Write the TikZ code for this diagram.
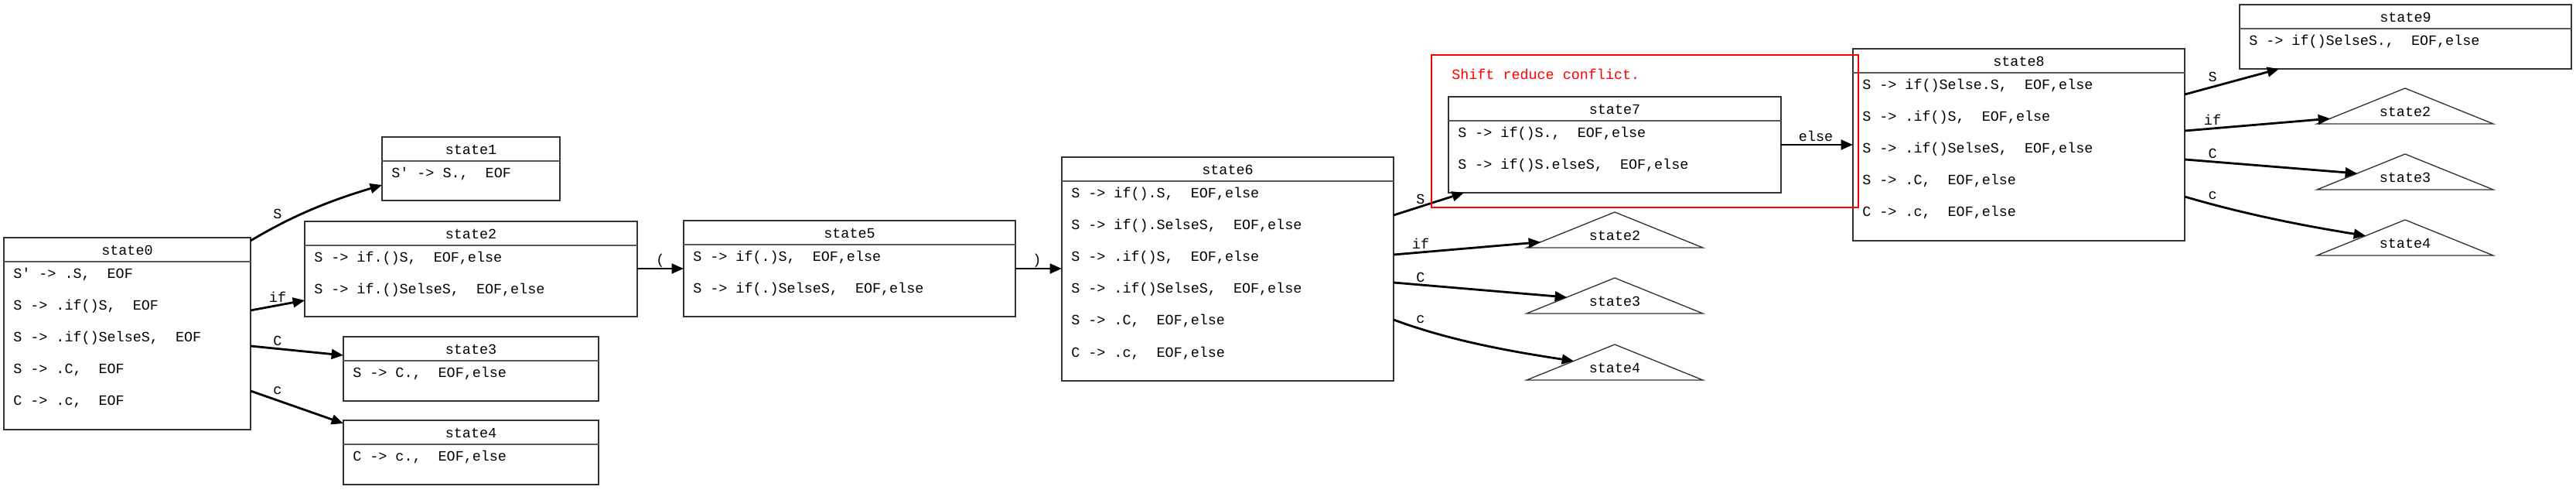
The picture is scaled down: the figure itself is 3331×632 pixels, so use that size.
\documentclass[tikz,border=0pt]{standalone}
\usepackage{fontspec}
\setmonofont{Liberation Mono}
\usetikzlibrary{arrows.meta,calc,fit}
\frenchspacing
\tikzset{
  mono/.style={font=\ttfamily\fontsize{13.8}{16}\selectfont},
  stbox/.style={draw=black!80, line width=0.9pt, inner sep=0pt, outer sep=0pt, fill=white},
  hdrline/.style={draw=black!65, line width=1.5pt},
  txt/.style={mono, anchor=base, inner sep=0pt},
  rowtxt/.style={mono, anchor=base west, inner sep=0pt},
  tri/.style={draw=black!80, line width=1pt},
  edge/.style={draw=black, line width=2.1pt, -{Triangle[length=11.5pt, width=9.5pt]}},
  redbox/.style={draw=red, line width=1.2pt, inner sep=0pt, outer sep=0pt},
  redtxt/.style={mono, anchor=base west, inner sep=0pt, text=red}
}
% name, x1, y1, x2, y2, title
\newcommand\stbox[6]{%
  \node[stbox, fit={(#2,#3) (#4,#5)}] (#1) {};
  \draw[hdrline] ($(#1.north west)+(0,31)$) -- ($(#1.north east)+(0,31)$);
  \node[txt] (#1t) at ({(#2+#4)/2},{#3+22}) {#6};}
% name, x1, top, index, text
\newcommand\strow[5]{\node[rowtxt] (#1) at ({#2+12},{#3+52+41.2*(#4-1)}) {#5};}
% name, apex x, apex y, label
\newcommand\tri[4]{%
  \coordinate (#1a) at (#2,#3);
  \coordinate (#1l) at ({#2-114},{#3+46});
  \coordinate (#1r) at ({#2+114},{#3+46});
  \draw[tri] (#1a) -- (#1l) -- (#1r) -- cycle;
  \node[txt] (#1) at (#2,{#3+36}) {#4};}
\begin{document}
\begin{tikzpicture}[x=0.75pt,y=-0.75pt]
\useasboundingbox (0,0) rectangle (3331,632);
\fill[white] (0,0) rectangle (3331,632);

% state0
\stbox{s0}{5}{307}{324}{555}{state0}
\strow{s0r1}{5}{307}{1}{S\textquotesingle{} -> .S,~~EOF}
\strow{s0r2}{5}{307}{2}{S -> .if()S,~~EOF}
\strow{s0r3}{5}{307}{3}{S -> .if()SelseS,~~EOF}
\strow{s0r4}{5}{307}{4}{S -> .C,~~EOF}
\strow{s0r5}{5}{307}{5}{C -> .c,~~EOF}
% state1
\stbox{s1}{494}{177}{724}{259}{state1}
\strow{s1r1}{494}{177}{1}{S\textquotesingle{} -> S.,~~EOF}
% state2
\stbox{s2}{394}{286}{824}{409}{state2}
\strow{s2r1}{394}{286}{1}{S -> if.()S,~~EOF,else}
\strow{s2r2}{394}{286}{2}{S -> if.()SelseS,~~EOF,else}
% state3
\stbox{s3}{444}{435}{774}{518}{state3}
\strow{s3r1}{444}{435}{1}{S -> C.,~~EOF,else}
% state4
\stbox{s4}{444}{543}{774}{626}{state4}
\strow{s4r1}{444}{543}{1}{C -> c.,~~EOF,else}
% state5
\stbox{s5}{884}{285}{1313}{409}{state5}
\strow{s5r1}{884}{285}{1}{S -> if(.)S,~~EOF,else}
\strow{s5r2}{884}{285}{2}{S -> if(.)SelseS,~~EOF,else}
% state6
\stbox{s6}{1373}{203}{1802}{492}{state6}
\strow{s6r1}{1373}{203}{1}{S -> if().S,~~EOF,else}
\strow{s6r2}{1373}{203}{2}{S -> if().SelseS,~~EOF,else}
\strow{s6r3}{1373}{203}{3}{S -> .if()S,~~EOF,else}
\strow{s6r4}{1373}{203}{4}{S -> .if()SelseS,~~EOF,else}
\strow{s6r5}{1373}{203}{5}{S -> .C,~~EOF,else}
\strow{s6r6}{1373}{203}{6}{C -> .c,~~EOF,else}
% state7
\stbox{s7}{1873}{125}{2303}{249}{state7}
\strow{s7r1}{1873}{125}{1}{S -> if()S.,~~EOF,else}
\strow{s7r2}{1873}{125}{2}{S -> if()S.elseS,~~EOF,else}
% state8
\stbox{s8}{2396}{63}{2825}{311}{state8}
\strow{s8r1}{2396}{63}{1}{S -> if()Selse.S,~~EOF,else}
\strow{s8r2}{2396}{63}{2}{S -> .if()S,~~EOF,else}
\strow{s8r3}{2396}{63}{3}{S -> .if()SelseS,~~EOF,else}
\strow{s8r4}{2396}{63}{4}{S -> .C,~~EOF,else}
\strow{s8r5}{2396}{63}{5}{C -> .c,~~EOF,else}
% state9
\stbox{s9}{2896}{6}{3325}{89}{state9}
\strow{s9r1}{2896}{6}{1}{S -> if()SelseS.,~~EOF,else}

% triangles
\tri{t62}{2088}{274}{state2}
\tri{t63}{2088}{359}{state3}
\tri{t64}{2088}{445}{state4}
\tri{t82}{3110}{114}{state2}
\tri{t83}{3110}{199}{state3}
\tri{t84}{3110}{284}{state4}

% edges from state0
\draw[edge] ($(s0.north east)+(0,4)$) .. controls (384,275) and (434,257) .. ($(s1.north west)+(0,62)$);
\draw[edge] ($(s0.north east)+(0,94)$) -- ($(s2.north west)+(0,102)$);
\draw[edge] ($(s0.north east)+(0,140)$) -- ($(s3.north west)+(0,24)$);
\draw[edge] ($(s0.north east)+(0,198)$) .. controls (364,519) and (404,533) .. ($(s4.north west)+(0,4)$);
\node[txt] (l01) at (359,282) {S};
\node[txt] (l02) at (359,390) {if};
\node[txt] (l03) at (359,446) {C};
\node[txt] (l04) at (359,509) {c};
% state2 -> state5 -> state6
\draw[edge] ($(s2.north east)+(0,61)$) -- ($(s5.north west)+(0,62)$);
\node[txt] (l25) at (854,341) {(};
\draw[edge] ($(s5.north east)+(0,62)$) -- ($(s6.north west)+(0,144)$);
\node[txt] (l56) at (1341,341) {)};
% edges from state6
\draw[edge] ($(s6.north east)+(0,75)$) -- ($(s7.south west)+(20,0)$);
\draw[edge] ($(s6.north east)+(0,126)$) -- ($(t62l)!0.158!(t62a)$);
\draw[edge] ($(s6.north east)+(0,162)$) -- ($(t63l)!0.456!(t63a)$);
\draw[edge] ($(s6.north east)+(0,210)$) .. controls (1877,441) and (1960,455) .. ($(t64l)!0.535!(t64a)$);
\node[txt] (l61) at (1837,263) {S};
\node[txt] (l62) at (1837,321) {if};
\node[txt] (l63) at (1837,364) {C};
\node[txt] (l64) at (1837,417) {c};
% state7 -> state8
\draw[edge] ($(s7.north east)+(0,62)$) -- ($(s8.north west)+(0,124)$);
\node[txt] (l78) at (2348,182) {else};
% edges from state8
\draw[edge] ($(s8.north east)+(0,59)$) -- ($(s9.south west)+(51,0)$);
\draw[edge] ($(s8.north east)+(0,106)$) -- ($(t82l)!0.149!(t82a)$);
\draw[edge] ($(s8.north east)+(0,143)$) -- ($(t83l)!0.456!(t83a)$);
\draw[edge] ($(s8.north east)+(0,191)$) .. controls (2903,277) and (2981,292) .. ($(t84l)!0.553!(t84a)$);
\node[txt] (l81) at (2861,105) {S};
\node[txt] (l82) at (2861,161) {if};
\node[txt] (l83) at (2861,204) {C};
\node[txt] (l84) at (2861,257) {c};

% conflict frame
\node[redbox, fit={(1851,71) (2403,268)}] (conflict) {};
\node[redtxt] (conflictlbl) at (1877,102) {Shift reduce conflict.};
\end{tikzpicture}
\end{document}
